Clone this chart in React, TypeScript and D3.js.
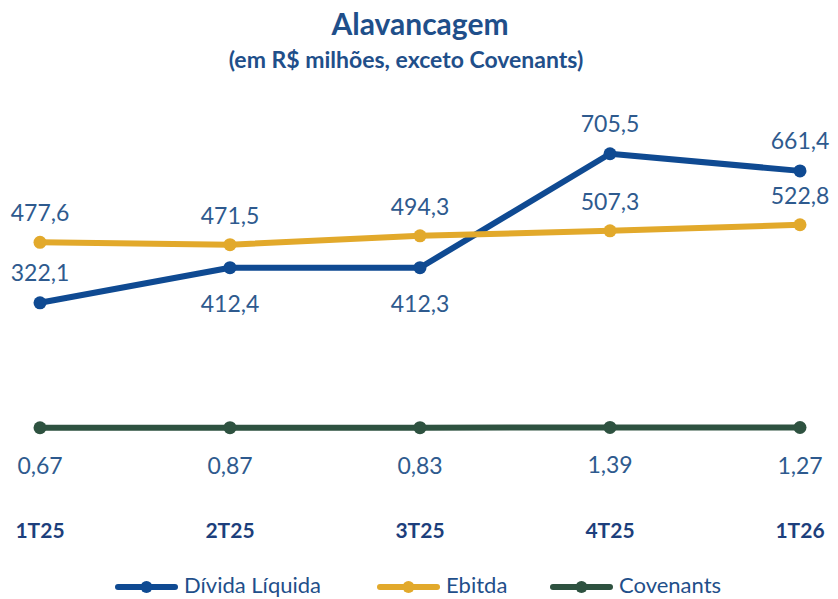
import React from "react";
import * as d3 from "d3";

const categories = ["1T25", "2T25", "3T25", "4T25", "1T26"];
const dividaLiquida = [322.1, 412.4, 412.3, 705.5, 661.4];
const ebitda = [477.6, 471.5, 494.3, 507.3, 522.8];
const covenants = [0.67, 0.87, 0.83, 1.39, 1.27];
const dividaLabelPos = ["above", "below", "below", "above", "above"];

const W = 838;
const H = 599;
const FONT = "Lato, 'Open Sans', sans-serif";
const C_DIV = "#0f4a92";
const C_EBI = "#e2a92b";
const C_COV = "#2e5240";
const C_LABEL = "#2e5a8e";
const C_TITLE = "#1f4f8a";

const fmt = (v: number, d: number) => v.toFixed(d).replace(".", ",");

export default function App() {
  const x = d3.scalePoint<string>().domain(categories).range([40, 800]);
  const y = d3.scaleLinear().domain([0, 800]).range([428, 117]);
  const line = d3
    .line<number>()
    .x((_, i) => x(categories[i]) as number)
    .y((d) => y(d));

  const series = [
    { name: "Dívida Líquida", data: dividaLiquida, color: C_DIV },
    { name: "Ebitda", data: ebitda, color: C_EBI },
    { name: "Covenants", data: covenants, color: C_COV },
  ];

  const legend = [
    { name: "Dívida Líquida", color: C_DIV, x0: 118 },
    { name: "Ebitda", color: C_EBI, x0: 380 },
    { name: "Covenants", color: C_COV, x0: 553 },
  ];

  return (
    <svg
      width={W}
      height={H}
      style={{ position: "absolute", left: 0, top: 0, background: "#fff" }}
      fontFamily={FONT}
    >
      <rect width={W} height={H} fill="#fff" />
      <text x={420} y={35} textAnchor="middle" fontSize={30} fontWeight="bold" fill={C_TITLE}>
        Alavancagem
      </text>
      <text x={406} y={68} textAnchor="middle" fontSize={23} fontWeight="bold" fill={C_TITLE}>
        (em R$ milhões, exceto Covenants)
      </text>

      {series.map((s) => (
        <g key={s.name}>
          <path
            d={line(s.data) || ""}
            fill="none"
            stroke={s.color}
            strokeWidth={6}
            strokeLinejoin="round"
            strokeLinecap="round"
          />
          {s.data.map((v, i) => (
            <circle key={i} cx={x(categories[i])} cy={y(v)} r={6.5} fill={s.color} />
          ))}
        </g>
      ))}

      {ebitda.map((v, i) => (
        <text
          key={"e" + i}
          x={x(categories[i])}
          y={y(v) - 21}
          textAnchor="middle"
          fontSize={23}
          fill={C_LABEL}
        >
          {fmt(v, 1)}
        </text>
      ))}
      {dividaLiquida.map((v, i) => (
        <text
          key={"d" + i}
          x={x(categories[i])}
          y={dividaLabelPos[i] === "above" ? y(v) - 22 : y(v) + 44}
          textAnchor="middle"
          fontSize={23}
          fill={C_LABEL}
        >
          {fmt(v, 1)}
        </text>
      ))}
      {covenants.map((v, i) => (
        <text
          key={"c" + i}
          x={x(categories[i])}
          y={y(v) + 46}
          textAnchor="middle"
          fontSize={23}
          fill={C_LABEL}
        >
          {fmt(v, 2)}
        </text>
      ))}
      {categories.map((c) => (
        <text
          key={c}
          x={x(c)}
          y={538}
          textAnchor="middle"
          fontSize={21}
          fontWeight="bold"
          fill="#1d3f7c"
        >
          {c}
        </text>
      ))}

      {legend.map((l) => (
        <g key={l.name}>
          <line x1={l.x0} x2={l.x0 + 57} y1={587} y2={587} stroke={l.color} strokeWidth={6} strokeLinecap="round" />
          <circle cx={l.x0 + 28.5} cy={587} r={6} fill={l.color} />
          <text x={l.x0 + 66} y={593} fontSize={22} fill={C_TITLE}>
            {l.name}
          </text>
        </g>
      ))}
    </svg>
  );
}
